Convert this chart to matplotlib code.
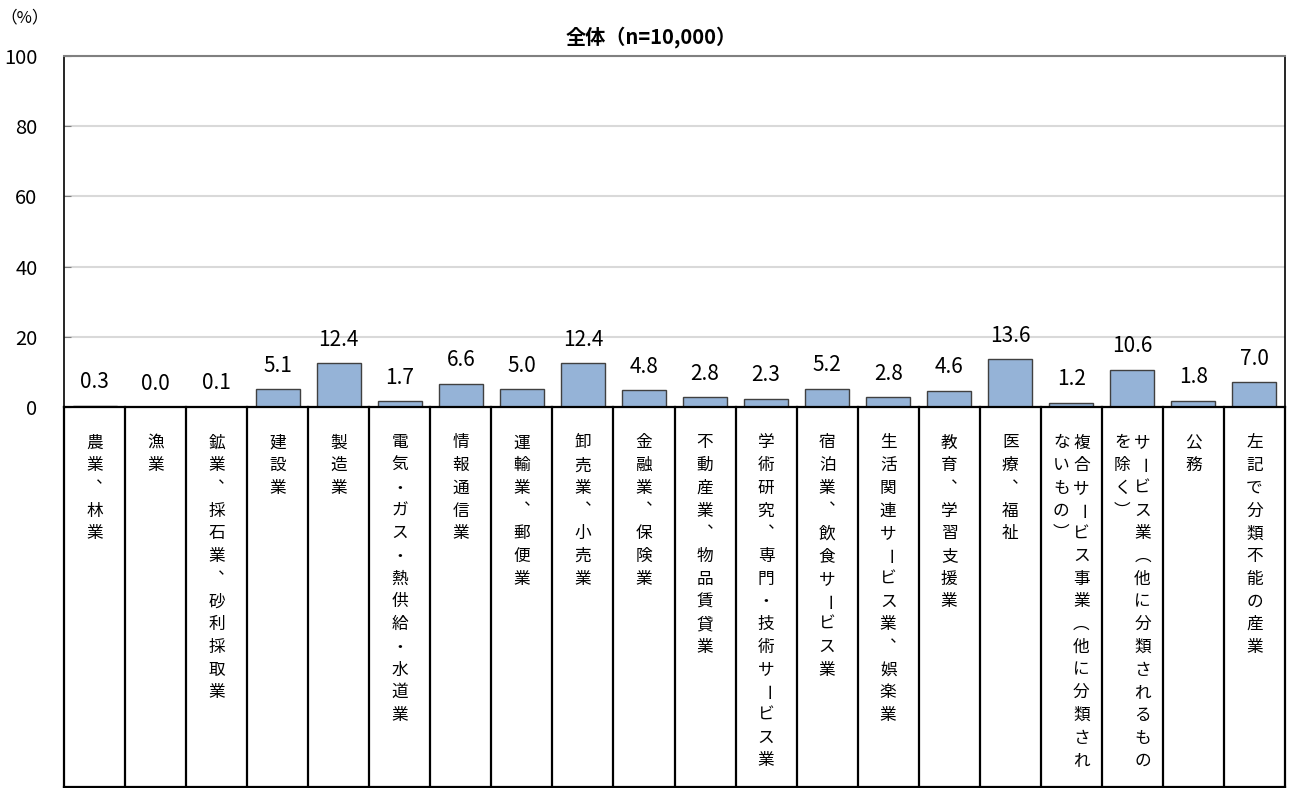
import matplotlib
matplotlib.use("Agg")
import matplotlib.pyplot as plt
import numpy as np

plt.rcParams['font.family'] = ['Noto Sans CJK JP', 'DejaVu Sans']

# 産業分類（縦書きラベル、"\n" で次の列へ）
industries = [
    "農業、林業",
    "漁業",
    "鉱業、採石業、砂利採取業",
    "建設業",
    "製造業",
    "電気・ガス・熱供給・水道業",
    "情報通信業",
    "運輸業、郵便業",
    "卸売業、小売業",
    "金融業、保険業",
    "不動産業、物品賃貸業",
    "学術研究、専門・技術サービス業",
    "宿泊業、飲食サービス業",
    "生活関連サービス業、娯楽業",
    "教育、学習支援業",
    "医療、福祉",
    "複合サービス事業（他に分類され\nないもの）",
    "サービス業（他に分類されるもの\nを除く）",
    "公務",
    "左記で分類不能の産業",
]
values = [0.3, 0.0, 0.1, 5.1, 12.4, 1.7, 6.6, 5.0, 12.4, 4.8,
          2.8, 2.3, 5.2, 2.8, 4.6, 13.6, 1.2, 10.6, 1.8, 7.0]
yticks = [0, 20, 40, 60, 80, 100]
title = "全体（n=10,000）"
unit_label = "（%）"

W, H = 1290, 788
fig = plt.figure(figsize=(W / 100, H / 100), dpi=100)


def box(x0, y0, x1, y1):
    # pixel box (top-left origin) -> figure fraction
    return [x0 / W, 1 - y1 / H, (x1 - x0) / W, (y1 - y0) / H]


n = len(values)
x = np.arange(n)

# --- bar chart ---
ax = fig.add_axes(box(64, 56, 1285, 407))
ax.bar(x, values, width=0.72, color='#95b3d7', edgecolor='#404040',
       linewidth=1.0, zorder=3)
ax.set_xlim(-0.5, n - 0.5)
ax.set_ylim(0, 100)
ax.set_yticks(yticks)
ax.set_xticks([])
ax.yaxis.grid(True, color='#d9d9d9', linewidth=1.5, zorder=0)
ax.tick_params(axis='y', direction='in', length=5, color='#808080',
               labelsize=14.5, pad=19)
ax.spines['top'].set_color('#808080')
ax.spines['top'].set_linewidth(1.5)
ax.spines['left'].set_linewidth(1.2)
ax.spines['right'].set_linewidth(1.2)
ax.spines['bottom'].set_visible(False)

for xi, v in zip(x, values):
    ax.annotate(f"{v:.1f}", (xi, v), xytext=(0, 9), textcoords='offset points',
                ha='center', va='bottom', fontsize=15)

fig.text(651 / W, 1 - 37 / H, title, ha='center', va='center',
         fontsize=14.5, fontweight='bold')
fig.text(0 / W, 1 - 18 / H, unit_label, ha='left', va='center', fontsize=12)

# --- table with vertical labels ---
tab = fig.add_axes(box(64, 407, 1285, 787))
tab.set_xlim(-0.5, n - 0.5)
tab.set_ylim(380, 0)
tab.axis('off')
for b in np.arange(-0.5, n):
    tab.axvline(b, color='black', linewidth=1.6, clip_on=False)
tab.axhline(0, color='black', linewidth=1.6, clip_on=False)
tab.axhline(380, color='black', linewidth=1.6, clip_on=False)

VERT = {'、': '︑', '（': '︵', '）': '︶'}
ROTATE = {'ー'}
col_off = 0.165
pitch = 22.7
first = 36

for i, label in enumerate(industries):
    cols = label.split('\n')
    for j, col in enumerate(cols):
        cx = i + ((len(cols) - 1) / 2 - j) * 2 * col_off
        for k, ch in enumerate(col):
            cy = first + k * pitch
            rot = -90 if ch in ROTATE else 0
            tab.text(cx, cy, VERT.get(ch, ch), ha='center', va='center',
                     fontsize=12, rotation=rot)

plt.savefig('out.png', dpi=100)
